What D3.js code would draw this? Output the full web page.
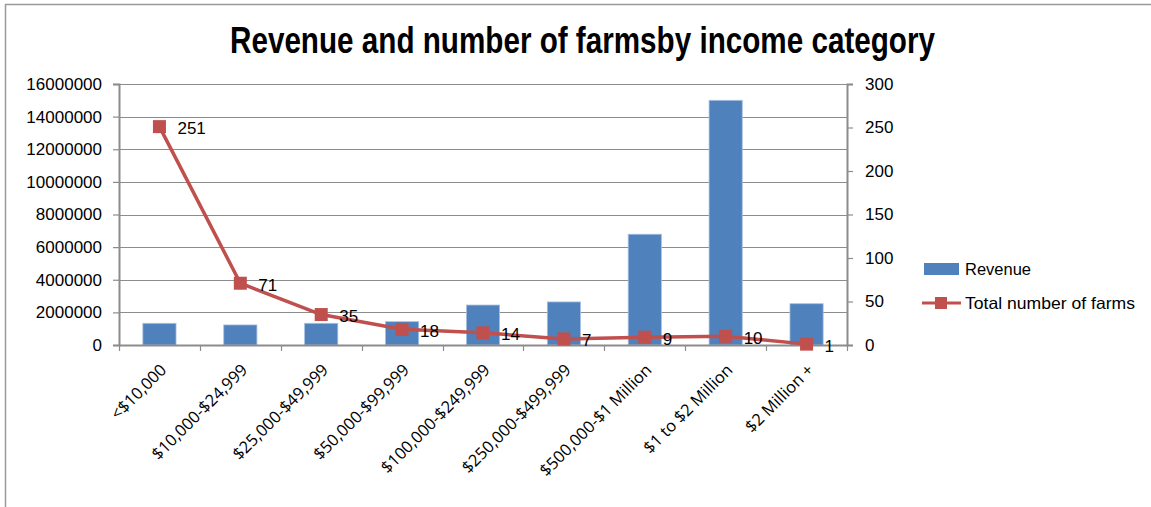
<!DOCTYPE html>
<html>
<head>
<meta charset="utf-8">
<script src="https://cdn.jsdelivr.net/npm/d3@7"></script>
<style>
  body { margin: 0; background: #fff; }
  svg { display: block; font-family: "Liberation Sans", Arial, sans-serif; }
</style>
</head>
<body>
<svg id="chart"></svg>
<script>
// data
const categories = ['<$10,000', '$10,000-$24,999', '$25,000-$49,999', '$50,000-$99,999',
  '$100,000-$249,999', '$250,000-$499,999', '$500,000-$1 Million', '$1 to $2 Million', '$2 Million +'];
const revenue = [1330000, 1230000, 1330000, 1430000, 2450000, 2640000, 6790000, 15000000, 2530000];
const farms = [251, 71, 35, 18, 14, 7, 9, 10, 1];
const leftTicks = [0, 2000000, 4000000, 6000000, 8000000, 10000000, 12000000, 14000000, 16000000];
const rightTicks = [0, 50, 100, 150, 200, 250, 300];

const width = 1151, height = 507;
const margin = {top: 84, right: 304, bottom: 162, left: 119};
const innerW = width - margin.left - margin.right;
const innerH = height - margin.top - margin.bottom;

const svg = d3.select('#chart').attr('width', width).attr('height', height);

// outer frame (top and left edges visible)
svg.append('line').attr('x1', 5).attr('x2', width).attr('y1', 4.5).attr('y2', 4.5)
  .attr('stroke', '#9a9a9a').attr('stroke-width', 1.5);
svg.append('line').attr('x1', 5.5).attr('x2', 5.5).attr('y1', 4).attr('y2', height)
  .attr('stroke', '#9a9a9a').attr('stroke-width', 1.5);

// title
svg.append('text')
  .attr('x', 230).attr('y', 53)
  .attr('textLength', 705).attr('lengthAdjust', 'spacingAndGlyphs')
  .attr('font-size', 36).attr('font-weight', 'bold').attr('fill', '#000')
  .text('Revenue and number of farmsby income category');

const g = svg.append('g').attr('transform', `translate(${margin.left},${margin.top})`);

const x = d3.scaleBand().domain(categories).range([0, innerW]);
const yL = d3.scaleLinear().domain([0, 16000000]).range([innerH, 0]);
const yR = d3.scaleLinear().domain([0, 300]).range([innerH, 0]);

// gridlines
g.append('g').selectAll('line').data(leftTicks.slice(1)).join('line')
  .attr('x1', 0).attr('x2', innerW)
  .attr('y1', d => Math.round(yL(d)) + 0.5).attr('y2', d => Math.round(yL(d)) + 0.5)
  .attr('stroke', '#8c8c8c').attr('stroke-width', 1.2);

// bars
const barW = x.bandwidth() * 0.41;
g.append('g').selectAll('rect').data(revenue).join('rect')
  .attr('x', (d, i) => x(categories[i]) + (x.bandwidth() - barW) / 2)
  .attr('y', d => yL(d))
  .attr('width', barW)
  .attr('height', d => innerH - yL(d))
  .attr('fill', '#4f81bd')
  .attr('stroke', '#a7bfdf').attr('stroke-width', 0.8);

// axes
const axisL = g.append('g')
  .call(d3.axisLeft(yL).tickValues(leftTicks).tickSize(6).tickPadding(11).tickFormat(d3.format('d')));
const axisR = g.append('g').attr('transform', `translate(${innerW},0)`)
  .call(d3.axisRight(yR).tickValues(rightTicks).tickSize(6).tickPadding(12));
const axisB = g.append('g').attr('transform', `translate(0,${innerH})`)
  .call(d3.axisBottom(x).tickSize(0).tickFormat(''));

[axisL, axisR, axisB].forEach(a => {
  a.select('.domain').attr('stroke', '#8c8c8c').attr('stroke-width', 2);
  a.selectAll('.tick line').attr('stroke', '#8c8c8c').attr('stroke-width', 1.2);
  a.selectAll('text').attr('font-size', 17).attr('fill', '#000')
    .attr('font-family', '"Liberation Sans", Arial, sans-serif');
});

// category tick marks at band boundaries
g.append('g').selectAll('line').data(d3.range(categories.length + 1)).join('line')
  .attr('x1', i => Math.round(i * x.step()) + 0.5).attr('x2', i => Math.round(i * x.step()) + 0.5)
  .attr('y1', innerH).attr('y2', innerH + 6)
  .attr('stroke', '#8c8c8c').attr('stroke-width', 1.2);

// rotated category labels
g.append('g').selectAll('text').data(categories).join('text')
  .attr('transform', d => `translate(${x(d) + x.bandwidth() / 2 + 8},${innerH + 26}) rotate(-45)`)
  .attr('text-anchor', 'end')
  .attr('font-family', '"Open Sans", "Liberation Sans", sans-serif')
  .attr('font-size', 16.5).attr('fill', '#000')
  .text(d => d);

// line series
const cx = i => x(categories[i]) + x.bandwidth() / 2;
const line = d3.line().x((d, i) => cx(i)).y(d => yR(d));
g.append('path').datum(farms)
  .attr('d', line)
  .attr('fill', 'none').attr('stroke', '#c0504d').attr('stroke-width', 3.5)
  .attr('stroke-linejoin', 'round');

const ms = 13;
g.append('g').selectAll('rect').data(farms).join('rect')
  .attr('x', (d, i) => cx(i) - ms / 2).attr('y', d => yR(d) - ms / 2)
  .attr('width', ms).attr('height', ms)
  .attr('fill', '#c0504d');

// data labels
g.append('g').selectAll('text').data(farms).join('text')
  .attr('x', (d, i) => cx(i) + 18)
  .attr('y', d => yR(d) + 7.5)
  .attr('font-size', 17).attr('fill', '#000')
  .text(d => d);

// legend
const lg = svg.append('g').attr('transform', 'translate(924,0)');
lg.append('rect').attr('x', 0).attr('y', 263).attr('width', 35).attr('height', 12).attr('fill', '#4f81bd');
lg.append('text').attr('x', 41).attr('y', 275).attr('font-size', 16.5)
  .attr('textLength', 66).attr('lengthAdjust', 'spacingAndGlyphs').text('Revenue');
lg.append('line').attr('x1', -2).attr('x2', 37).attr('y1', 303).attr('y2', 303)
  .attr('stroke', '#c0504d').attr('stroke-width', 3);
lg.append('rect').attr('x', 11).attr('y', 297).attr('width', 12).attr('height', 12).attr('fill', '#c0504d');
lg.append('text').attr('x', 41).attr('y', 309).attr('font-size', 16.5)
  .attr('textLength', 170).attr('lengthAdjust', 'spacingAndGlyphs').text('Total number of farms');
</script>
</body>
</html>
